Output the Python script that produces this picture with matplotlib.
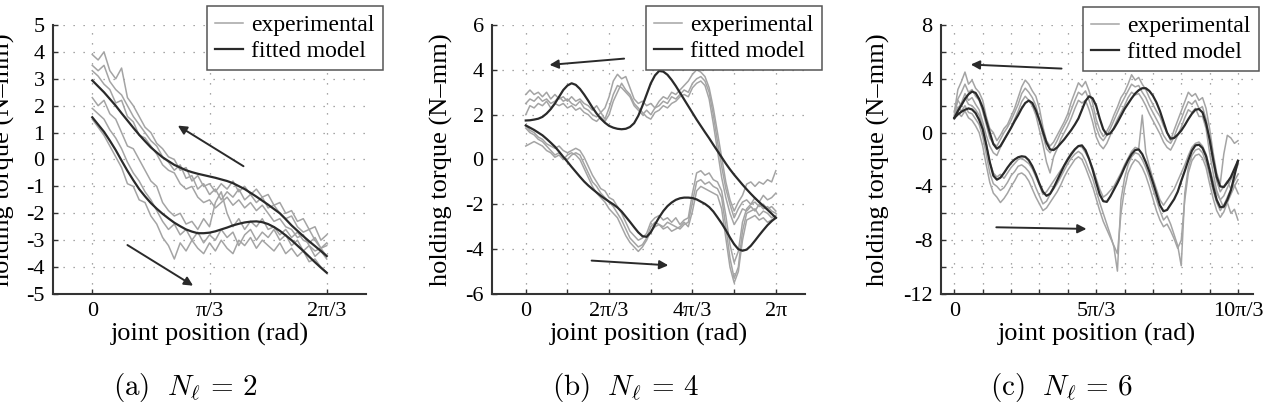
import numpy as np
import matplotlib
matplotlib.use("Agg")
import matplotlib.pyplot as plt
from matplotlib.ticker import FixedLocator

plt.rcParams['font.family'] = ['Liberation Serif', 'DejaVu Serif']
plt.rcParams['mathtext.fontset'] = 'cm'

U = np.pi / 3   # all x data below is given in units of pi/3

# ---------------- (a) N_l = 2 : x from 0 to 2 (units of pi/3) ----------------
a_fit_up = [2.94, 2.72, 2.5, 2.25, 2.0, 1.72, 1.45, 1.18, 0.92, 0.68,
            0.45, 0.26, 0.08, -0.06, -0.2, -0.3, -0.4, -0.47, -0.53, -0.58,
            -0.63, -0.68, -0.74, -0.8, -0.88, -0.99, -1.1, -1.24, -1.38, -1.53,
            -1.68, -1.84, -2.0, -2.22, -2.45, -2.65, -2.85, -3.04, -3.22, -3.4,
            -3.59]
a_fit_lo = [1.57, 1.3, 1.03, 0.7, 0.35, -0.04, -0.42, -0.77, -1.1, -1.37,
            -1.62, -1.83, -2.02, -2.19, -2.35, -2.48, -2.6, -2.68, -2.74, -2.74,
            -2.72, -2.67, -2.6, -2.53, -2.45, -2.39, -2.34, -2.31, -2.3, -2.33,
            -2.4, -2.51, -2.65, -2.82, -3.0, -3.2, -3.4, -3.61, -3.82, -4.02,
            -4.21]
a_exp_up = [
    [3.9, 3.7, 4.0, 3.3, 3.0, 3.4, 2.3, 2.0, 1.6, 1.2,
     1.0, 0.6, 0.4, 0.1, 0.0, -0.4, -0.3, -0.8, -0.6, -1.0,
     -0.9, -1.2, -0.9, -1.1, -0.8, -1.2, -1.0, -1.3, -1.1, -1.4,
     -1.3, -1.7, -1.6, -2.0, -1.9, -2.3, -2.2, -2.6, -2.5, -3.0, -2.8],
    [3.5, 3.3, 3.5, 2.9, 2.6, 2.4, 2.0, 1.6, 1.3, 1.0,
     0.7, 0.5, 0.1, -0.1, -0.4, -0.2, -0.7, -0.6, -1.1, -0.9,
     -1.3, -1.1, -1.5, -1.2, -1.4, -1.1, -1.5, -1.3, -1.6, -1.4,
     -1.8, -1.7, -2.0, -2.2, -2.1, -2.5, -2.7, -2.6, -3.0, -3.3, -3.1],
    [3.3, 3.1, 2.8, 2.6, 2.1, 2.2, 1.6, 1.4, 0.9, 0.8,
     0.5, 0.2, -0.2, -0.4, -0.5, -0.9, -1.1, -1.0, -1.4, -1.6,
     -1.5, -1.8, -1.6, -1.4, -1.7, -1.5, -1.8, -1.6, -1.9, -1.7,
     -2.0, -2.3, -2.2, -2.5, -2.6, -2.9, -2.8, -3.2, -3.4, -3.3, -3.6],
]
a_exp_lo = [
    [2.3, 2.0, 2.2, 1.7, 1.5, 1.0, 0.5, 0.4, 0.0, -0.4,
     -0.8, -1.0, -1.6, -1.9, -2.1, -2.0, -2.4, -2.3, -2.6, -2.2,
     -2.5, -1.6, -1.2, -2.0, -2.5, -2.2, -2.6, -2.3, -2.5, -2.2,
     -2.6, -2.5, -2.8, -2.6, -2.9, -2.7, -3.0, -3.1, -2.9, -3.3, -3.2],
    [1.9, 1.7, 1.5, 1.1, 0.8, 0.4, -0.1, -0.5, -0.8, -1.2,
     -1.5, -1.9, -2.3, -2.6, -2.4, -2.8, -2.6, -3.0, -2.7, -3.1,
     -2.8, -3.0, -2.6, -2.9, -2.7, -3.2, -2.8, -2.6, -3.0, -2.7,
     -2.9, -2.6, -3.0, -2.8, -3.2, -3.0, -3.4, -3.2, -3.6, -3.4, -3.7],
    [1.5, 1.2, 0.9, 0.5, 0.1, -0.3, -0.9, -1.0, -1.5, -1.6,
     -2.1, -2.4, -2.9, -3.2, -3.7, -3.1, -3.4, -3.0, -3.3, -3.5,
     -3.1, -3.4, -3.0, -3.3, -3.5, -3.0, -3.2, -2.9, -3.3, -3.0,
     -3.2, -3.4, -3.1, -3.5, -3.3, -3.6, -3.4, -3.8, -3.7, -4.0, -4.2],
]
a_arrows = [((1.29, -0.25), (0.73, 1.26)), ((0.30, -3.18), (0.86, -4.69))]

# ---------------- (b) N_l = 4 : x from 0 to 6 ----------------
b_fit_up = [1.74, 1.75, 1.78, 1.82, 1.9, 2.05, 2.25, 2.5, 2.8, 3.1,
            3.3, 3.4, 3.33, 3.15, 2.9, 2.62, 2.32, 2.05, 1.82, 1.64,
            1.5, 1.42, 1.37, 1.35, 1.37, 1.45, 1.62, 1.95, 2.4, 2.9,
            3.4, 3.75, 3.95, 3.92, 3.78, 3.55, 3.28, 2.98, 2.68, 2.38,
            2.08, 1.78, 1.5, 1.22, 0.95, 0.66, 0.38, 0.1, -0.18, -0.44,
            -0.68, -0.9, -1.12, -1.33, -1.53, -1.72, -1.9, -2.07, -2.24, -2.42,
            -2.6]
b_fit_lo = [1.52, 1.42, 1.32, 1.2, 1.08, 0.92, 0.75, 0.57, 0.35, 0.12,
            -0.1, -0.33, -0.55, -0.77, -0.98, -1.16, -1.32, -1.47, -1.62, -1.75,
            -1.88, -2.0, -2.14, -2.32, -2.55, -2.78, -3.02, -3.25, -3.42, -3.45,
            -3.25, -2.9, -2.58, -2.3, -2.08, -1.92, -1.8, -1.73, -1.7, -1.7,
            -1.72, -1.78, -1.88, -1.98, -2.12, -2.32, -2.58, -2.85, -3.15, -3.48,
            -3.78, -4.0, -4.07, -4.02, -3.85, -3.62, -3.38, -3.15, -2.93, -2.75,
            -2.6]
b_exp_up = [
    [2.9, 3.1, 2.9, 3.0, 2.8, 3.0, 2.7, 2.9, 2.7, 2.8,
     2.6, 2.8, 2.6, 2.7, 2.5, 2.4, 2.2, 2.4, 2.1, 2.3,
     2.8, 3.5, 3.8, 3.6, 3.7, 3.2, 2.7, 2.5, 2.6, 2.4,
     2.5, 2.3, 2.6, 2.8, 2.7, 3.0, 2.9, 3.1, 3.3, 3.5,
     3.8, 4.0, 3.9, 3.7, 3.2, 2.3, 1.2, 0.1, -1.0, -1.8,
     -2.3, -1.9, -1.6, -1.1, -1.0, -1.2, -1.0, -1.1, -0.9, -1.0, -0.5],
    [2.5, 2.7, 2.6, 2.8, 2.6, 2.7, 2.5, 2.6, 2.8, 2.6,
     2.7, 2.5, 2.4, 2.6, 2.3, 2.2, 2.0, 1.9, 2.1, 1.8,
     2.3, 2.9, 3.3, 3.2, 3.0, 2.8, 2.4, 2.2, 2.0, 2.2,
     2.0, 2.3, 2.4, 2.6, 2.5, 2.8, 2.7, 2.9, 3.1, 3.0,
     3.4, 3.6, 3.7, 3.5, 3.0, 2.0, 0.8, -0.3, -1.3, -2.0,
     -2.6, -2.2, -1.9, -1.8, -2.0, -1.7, -1.9, -1.6, -1.8, -1.7, -1.5],
    [2.0, 2.4, 2.3, 2.5, 2.4, 2.6, 2.3, 2.5, 2.4, 2.5,
     2.3, 2.4, 2.2, 2.3, 2.1, 2.0, 1.8, 1.7, 1.9, 1.7,
     2.0, 2.6, 3.0, 3.4, 3.1, 2.9, 2.5, 2.3, 2.1, 1.9,
     1.8, 2.1, 2.2, 2.4, 2.3, 2.5, 2.6, 2.8, 2.9, 2.8,
     3.2, 3.4, 3.5, 3.3, 2.7, 1.6, 0.4, -0.8, -1.7, -2.4,
     -2.9, -2.6, -2.2, -2.3, -2.1, -2.3, -2.0, -2.2, -2.1, -2.3, -2.4],
]
b_exp_lo = [
    [1.5, 1.3, 1.2, 1.0, 0.9, 0.7, 0.6, 0.5, 0.6, 0.4,
     0.3, 0.4, 0.5, 0.4, 0.1, -0.3, -0.7, -1.0, -1.3, -1.4,
     -1.7, -1.8, -2.1, -2.4, -2.8, -3.2, -3.4, -3.6, -3.5, -3.3,
     -2.8, -2.6, -2.5, -2.7, -2.6, -2.8, -2.6, -2.9, -2.7, -2.6,
     -1.5, -0.6, -0.5, -0.7, -0.6, -0.9, -1.0, -1.4, -2.5, -3.8,
     -4.6, -4.1, -2.8, -2.2, -2.0, -1.9, -2.1, -2.0, -2.2, -2.1, -2.3],
    [1.4, 1.2, 1.1, 0.9, 0.8, 0.6, 0.4, 0.2, 0.3, 0.1,
     0.0, 0.2, 0.3, 0.2, -0.2, -0.6, -1.0, -1.2, -1.5, -1.7,
     -1.9, -2.1, -2.4, -2.7, -3.1, -3.5, -3.7, -3.9, -3.8, -3.5,
     -3.0, -2.8, -2.9, -3.0, -2.8, -2.9, -3.0, -3.1, -2.9, -2.8,
     -1.9, -1.0, -0.9, -1.1, -1.0, -1.2, -1.3, -1.7, -3.0, -4.4,
     -5.3, -4.8, -3.2, -2.4, -2.3, -2.2, -2.5, -2.3, -2.4, -2.6, -2.5],
    [0.6, 0.7, 0.8, 0.7, 0.6, 0.4, 0.3, 0.1, 0.2, 0.0,
     0.2, 0.3, 0.2, 0.0, -0.4, -0.8, -1.2, -1.5, -1.7, -1.9,
     -2.2, -2.4, -2.6, -3.0, -3.4, -3.7, -3.9, -4.1, -3.9, -3.6,
     -3.2, -3.0, -2.9, -3.1, -3.0, -3.2, -3.1, -3.0, -2.8, -3.0,
     -2.3, -1.4, -1.2, -1.3, -1.4, -1.5, -1.6, -2.2, -3.5, -4.8,
     -5.5, -5.0, -3.6, -2.7, -2.6, -2.5, -2.7, -2.6, -2.8, -2.7, -2.6],
]
b_arrows = [((2.36, 4.5), (0.57, 4.22)), ((1.58, -4.51), (3.42, -4.72))]

# ---------------- (c) N_l = 6 : x from 0 to 10 ----------------
c_fit_up = [1.09, 1.6, 2.05, 2.5, 2.85, 3.05, 2.95, 2.5,
            1.85, 0.9, 0.0, -0.85, -1.2, -1.0, -0.55, -0.1,
            0.35, 0.85, 1.3, 1.8, 2.2, 2.38, 2.2, 1.65,
            0.9, 0.05, -0.75, -1.25, -1.3, -1.1, -0.8, -0.5,
            -0.15, 0.2, 0.6, 1.05, 1.7, 2.35, 2.7, 2.55,
            2.0, 1.05, 0.25, -0.15, -0.05, 0.3, 0.75, 1.25,
            1.75, 2.15, 2.55, 2.9, 3.15, 3.3, 3.3, 3.1,
            2.75, 2.25, 1.6, 0.8, 0.0, -0.45, -0.4, -0.15,
            0.15, 0.55, 1.0, 1.4, 1.7, 1.75, 1.5, 0.7,
            -0.5, -2.0, -3.3, -4.0, -4.05, -3.7, -3.3, -2.7,
            -2.1]
c_fit_lo = [1.09, 1.35, 1.55, 1.7, 1.8, 1.72, 1.45, 0.95,
            0.25, -0.9, -2.2, -3.2, -3.5, -3.35, -3.0, -2.6,
            -2.25, -2.0, -1.83, -1.76, -1.8, -2.05, -2.5, -3.1,
            -3.8, -4.4, -4.7, -4.55, -4.1, -3.55, -3.0, -2.45,
            -2.0, -1.6, -1.25, -1.0, -0.95, -1.3, -1.95, -2.75,
            -3.7, -4.6, -5.1, -5.15, -4.75, -4.25, -3.75, -3.2,
            -2.6, -2.05, -1.6, -1.3, -1.25, -1.6, -2.2, -2.9,
            -3.7, -4.55, -5.4, -5.85, -5.75, -5.35, -4.95, -4.4,
            -3.6, -2.85, -2.05, -1.35, -0.95, -0.9, -1.15, -1.75,
            -2.8, -4.0, -5.0, -5.55, -5.5, -5.0, -4.3, -3.2,
            -2.1]
c_exp_up = [
    [1.5, 3.2, 3.8, 4.5, 3.6, 3.9, 3.3, 3.0,
     2.4, 1.2, 0.3, 0.0, -0.6, -0.2, 0.3, 0.6,
     1.2, 1.8, 2.6, 3.4, 3.9, 3.6, 3.1, 2.7,
     1.8, 0.4, -0.6, -1.0, -0.7, -0.2, 0.3, 0.8,
     1.4, 2.3, 3.0, 3.7, 3.4, 3.8, 3.1, 2.2,
     1.0, 0.2, -0.3, 0.1, 0.6, 1.3, 1.9, 2.6,
     3.0, 3.6, 4.3, 3.9, 4.1, 3.6, 3.2, 2.6,
     2.1, 1.6, 1.2, 0.5, 0.0, -0.6, 0.2, 0.9,
     1.6, 2.3, 3.0, 2.7, 2.9, 2.4, 2.6, 1.8,
     0.3, -1.5, -3.0, -3.8, -1.6, -0.2, -0.4, -0.8,
     -0.6],
    [1.2, 2.5, 3.0, 3.6, 3.0, 3.2, 2.7, 2.4,
     1.6, 0.6, -0.4, -0.8, -1.0, -0.5, 0.0, 0.4,
     0.9, 1.5, 2.1, 2.9, 3.3, 3.0, 2.6, 2.0,
     1.0, -0.2, -1.2, -1.5, -1.1, -0.6, 0.0, 0.5,
     1.0, 1.7, 2.4, 3.0, 2.8, 3.1, 2.4, 1.6,
     0.4, -0.3, -0.6, -0.2, 0.3, 0.9, 1.5, 2.1,
     2.6, 3.1, 3.6, 3.4, 3.5, 3.0, 2.6, 2.0,
     1.5, 1.0, 0.5, -0.2, -0.6, -0.8, -0.3, 0.4,
     1.0, 1.7, 2.3, 2.1, 2.4, 1.8, 1.9, 1.0,
     -0.6, -2.2, -3.6, -4.4, -4.0, -3.6, -4.2, -3.9,
     -4.5],
    [1.0, 1.8, 2.2, 2.9, 2.4, 2.6, 2.1, 1.7,
     0.8, -0.2, -1.0, -1.5, -1.7, -1.1, -0.6, -0.1,
     0.4, 1.0, 1.6, 2.3, 2.7, 2.4, 2.0, 1.3,
     0.2, -0.9, -2.2, -3.0, -1.8, -1.2, -0.5, 0.0,
     0.5, 1.1, 1.8, 2.4, 2.2, 2.4, 1.7, 0.8,
     -0.3, -0.9, -1.2, -0.8, -0.2, 0.4, 1.0, 1.5,
     2.0, 2.6, 3.0, 2.8, 2.9, 2.5, 2.0, 1.4,
     0.9, 0.4, -0.1, -0.7, -1.1, -1.3, -0.8, -0.2,
     0.4, 1.1, 1.7, 1.5, 1.8, 1.2, 1.2, 0.3,
     -1.5, -3.0, -4.3, -5.0, -5.6, -5.2, -6.0, -5.7,
     -6.5],
]
c_exp_lo = [
    [1.6, 2.4, 2.0, 2.6, 2.1, 2.0, 1.7, 1.3,
     0.5, -0.8, -2.2, -3.0, -3.3, -3.1, -3.4, -3.0,
     -2.6, -2.3, -2.0, -1.9, -2.1, -2.3, -2.7, -3.3,
     -3.9, -4.6, -4.4, -4.0, -3.6, -3.2, -2.8, -2.4,
     -1.9, -1.5, -1.2, -1.0, -1.1, -1.5, -2.0, -2.6,
     -3.4, -4.2, -4.8, -4.6, -4.3, -4.0, -3.5, -3.0,
     -2.4, -1.9, -1.4, -1.1, -1.2, 1.3, -1.5, -2.5,
     -3.4, -4.2, -5.0, -5.4, -5.0, -4.6, -4.2, -3.6,
     -3.0, -2.4, -1.7, -1.1, -0.8, -0.7, -1.0, -1.6,
     -2.6, -3.6, -4.5, -5.0, -4.7, -4.1, -3.5, -3.0,
     -2.4],
    [1.3, 1.9, 1.6, 2.0, 1.5, 1.4, 1.0, 0.6,
     -0.3, -1.6, -3.0, -3.8, -4.0, -4.3, -4.1, -3.7,
     -3.2, -2.9, -2.5, -2.4, -2.6, -2.9, -3.4, -4.1,
     -4.7, -5.3, -5.1, -4.6, -4.2, -3.8, -3.3, -2.8,
     -2.3, -1.9, -1.6, -1.4, -1.6, -2.1, -2.8, -3.4,
     -4.3, -5.2, -6.0, -6.8, -7.6, -8.5, -10.3, -5.0,
     -3.4, -2.4, -1.8, -1.5, -1.6, -2.0, -2.6, -3.3,
     -4.2, -5.0, -5.8, -6.5, -6.2, -6.8, -7.6, -8.4,
     -9.9, -4.5, -2.6, -1.7, -1.3, -1.2, -1.5, -2.2,
     -3.2, -4.3, -5.2, -5.8, -5.4, -4.8, -4.2, -3.6,
     -3.1],
    [1.0, 1.5, 1.2, 1.6, 1.1, 0.9, 0.5, 0.0,
     -1.0, -2.4, -3.7, -4.5, -4.8, -5.2, -4.9, -4.5,
     -4.0, -3.6, -3.1, -3.0, -3.2, -3.6, -4.2, -4.8,
     -5.3, -5.8, -5.6, -5.2, -4.8, -4.4, -3.9, -3.3,
     -2.8, -2.4, -2.0, -1.8, -2.0, -2.6, -3.3, -4.0,
     -4.9, -5.8, -6.6, -7.2, -7.8, -8.4, -9.0, -6.0,
     -4.2, -3.0, -2.4, -2.0, -2.2, -2.6, -3.2, -4.0,
     -4.9, -5.8, -6.5, -7.0, -6.8, -7.3, -7.9, -8.6,
     -8.0, -5.0, -3.0, -2.1, -1.7, -1.6, -1.9, -2.6,
     -3.8, -4.9, -5.8, -6.3, -5.9, -5.2, -4.6, -4.0,
     -3.5],
]
c_arrows = [((3.78, 4.76), (0.58, 5.06)), ((1.48, -7.04), (4.66, -7.16))]

GRAY = '#a4a4a4'
DARK = '#2a2a2a'
GRID = dict(linestyle=(0, (1, 7)), color='#8a8a8a', linewidth=0.9)


def xs(vals, end):
    return np.linspace(0, end, len(vals)) * U


def panel(rect, end, exp_up, exp_lo, fit_up, fit_lo, arrows, xlim, ylim,
          xmaj, xlab, xminor, ymaj, yminor, ylab_x, leg_anchor, caption, cap_x):
    ax = fig.add_axes(rect)
    for i, tr in enumerate(exp_up + exp_lo):
        ax.plot(xs(tr, end), tr, color=GRAY, lw=1.1,
                label='experimental' if i == 0 else '_nolegend_', zorder=2)
    ax.plot(xs(fit_up, end), fit_up, color=DARK, lw=1.6, label='fitted model', zorder=3)
    ax.plot(xs(fit_lo, end), fit_lo, color=DARK, lw=1.6, zorder=3)
    for tail, head in arrows:
        ax.annotate('', xy=(head[0] * U, head[1]), xytext=(tail[0] * U, tail[1]),
                    arrowprops=dict(arrowstyle='-|>', color=DARK, lw=1.4,
                                    mutation_scale=13, shrinkA=0, shrinkB=0),
                    zorder=4)
    ax.set_xlim(xlim[0] * U, xlim[1] * U)
    ax.set_ylim(*ylim)
    ax.xaxis.set_major_locator(FixedLocator([v * U for v in xmaj]))
    ax.set_xticklabels(xlab)
    ax.yaxis.set_major_locator(FixedLocator(ymaj))
    ax.set_yticklabels(['%g' % v for v in ymaj])
    if xminor:
        ax.xaxis.set_minor_locator(FixedLocator([v * U for v in xminor]))
    if yminor:
        ax.yaxis.set_minor_locator(FixedLocator(yminor))
    ax.grid(True, which='both', **GRID)
    ax.set_axisbelow(True)
    for s in ['top', 'right']:
        ax.spines[s].set_visible(False)
    for s in ['left', 'bottom']:
        ax.spines[s].set_linewidth(1.5)
        ax.spines[s].set_color('#333333')
    ax.tick_params(which='both', direction='in', length=3.5, width=1.0,
                   color='#333333', labelsize=16, pad=6, top=False, right=False)
    ax.set_xlabel('joint position (rad)', fontsize=19, labelpad=1)
    ax.set_ylabel('holding torque (N–mm)', fontsize=19, va='center')
    ax.yaxis.set_label_coords(ylab_x, 0.5)
    ax.legend(loc='upper right', bbox_to_anchor=leg_anchor, bbox_transform=fig.transFigure,
              fontsize=17, frameon=True, fancybox=False, edgecolor='#555555',
              framealpha=1, borderaxespad=0, handlelength=1.2, handletextpad=0.35,
              labelspacing=0.2, borderpad=0.35)
    ax.get_legend().get_frame().set_linewidth(1.1)
    fig.text(cap_x, 0.058, caption, fontsize=21, ha='center', va='center')
    return ax


fig = plt.figure(figsize=(12.66, 4.11), dpi=100)

panel([53 / 1266, 117 / 411, 313 / 1266, 269 / 411], 2, a_exp_up, a_exp_lo,
      a_fit_up, a_fit_lo, a_arrows, (-0.335, 2.335), (-5, 5),
      [0, 1, 2], ['0', 'π/3', '2π/3'], None, list(range(-5, 6)), None,
      -0.157, (383 / 1266, 1 - 6 / 411), r'$\mathrm{(a)}\ \ N_\ell\,=\,2$', 185 / 1266)

panel([492 / 1266, 117 / 411, 313 / 1266, 269 / 411], 6, b_exp_up, b_exp_lo,
      b_fit_up, b_fit_lo, b_arrows, (-0.81, 6.7), (-6, 6),
      [0, 2, 4, 6], ['0', '2π/3', '4π/3', '2π'], [1, 3, 5], [-6, -4, -2, 0, 2, 4, 6], None,
      -0.163, (822 / 1266, 1 - 6 / 411), r'$\mathrm{(b)}\ \ N_\ell\,=\,4$', 625 / 1266)

panel([941 / 1266, 117 / 411, 312 / 1266, 269 / 411], 10, c_exp_up, c_exp_lo,
      c_fit_up, c_fit_lo, c_arrows, (-0.47, 10.53), (-12, 8),
      [0, 5, 10], ['0', '5π/3', '10π/3'], [1, 2, 3, 4, 6, 7, 8, 9], [-12, -8, -4, 0, 4, 8],
      [-10, -6, -2, 2, 6], -0.202, (1259 / 1266, 1 - 7 / 411), r'$\mathrm{(c)}\ \ N_\ell\,=\,6$', 1062 / 1266)

fig.savefig('out.png', dpi=100)
